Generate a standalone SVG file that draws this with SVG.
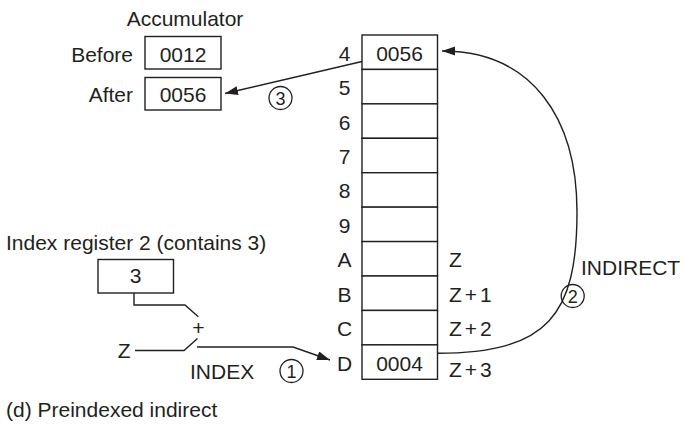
<svg xmlns="http://www.w3.org/2000/svg" width="683" height="427" viewBox="0 0 683 427">
<style>
text{font-family:"Liberation Sans",Arial,sans-serif;font-size:21px;fill:#231f20}
.m{text-anchor:middle}
.e{text-anchor:end}
.box{fill:#fff;stroke:#231f20;stroke-width:1.4}
.ln{fill:none;stroke:#231f20;stroke-width:1.4}
.c{fill:none;stroke:#231f20;stroke-width:1.3}
.cd{font-size:18px;text-anchor:middle}
.zl{letter-spacing:3px}
</style>
<defs>
<marker id="ah" markerUnits="userSpaceOnUse" markerWidth="14" markerHeight="10" refX="13" refY="4.5" orient="auto">
<path d="M0,0 L13,4.5 L0,9 z" fill="#231f20"/>
</marker>
</defs>
<rect width="683" height="427" fill="#fff"/>

<g id="accumulator">
<text class="m" x="185" y="26">Accumulator</text>
<text class="e" x="133" y="61.5">Before</text>
<rect class="box" x="145" y="36.5" width="76" height="32.5"/>
<text class="m" x="183" y="61.5">0012</text>
<text class="e" x="133" y="102">After</text>
<rect class="box" x="145" y="77.5" width="76" height="32.5"/>
<text class="m" x="183" y="102">0056</text>
</g>

<g id="memory">
<g id="m4"><rect class="box" x="362" y="35" width="75.5" height="34.43"/><text class="m" x="344.5" y="60.7">4</text><text class="m" x="399.5" y="60.7">0056</text></g>
<g id="m5"><rect class="box" x="362" y="69.43" width="75.5" height="34.43"/><text class="m" x="344.5" y="95.1">5</text></g>
<g id="m6"><rect class="box" x="362" y="103.86" width="75.5" height="34.43"/><text class="m" x="344.5" y="129.5">6</text></g>
<g id="m7"><rect class="box" x="362" y="138.29" width="75.5" height="34.43"/><text class="m" x="344.5" y="164">7</text></g>
<g id="m8"><rect class="box" x="362" y="172.72" width="75.5" height="34.43"/><text class="m" x="344.5" y="198.4">8</text></g>
<g id="m9"><rect class="box" x="362" y="207.15" width="75.5" height="34.43"/><text class="m" x="344.5" y="232.9">9</text></g>
<g id="mA"><rect class="box" x="362" y="241.58" width="75.5" height="34.43"/><text class="m" x="344.5" y="267.3">A</text><text x="449" y="267.3">Z</text></g>
<g id="mB"><rect class="box" x="362" y="276.01" width="75.5" height="34.43"/><text class="m" x="344.5" y="301.7">B</text><text class="zl" x="449" y="301.7">Z+1</text></g>
<g id="mC"><rect class="box" x="362" y="310.44" width="75.5" height="34.43"/><text class="m" x="344.5" y="336.2">C</text><text class="zl" x="449" y="336.2">Z+2</text></g>
<g id="mD"><rect class="box" x="362" y="344.87" width="75.5" height="34.43"/><text class="m" x="344.5" y="370.6">D</text><text class="m" x="399.5" y="370.6">0004</text><text class="zl" x="449" y="376.5">Z+3</text></g>
</g>

<g id="index-register">
<text x="6" y="249.5">Index register 2 (contains 3)</text>
<rect class="box" x="98" y="259.5" width="75.5" height="33.5"/>
<text class="m" x="135.5" y="283.3">3</text>
</g>

<g id="adder">
<text class="m" x="198.3" y="335.3">+</text>
<text class="e" x="130.5" y="358.3">Z</text>
</g>

<g id="connectors">
<path class="ln" d="M134,293 V305 H185 L198.3,316.7"/>
<path class="ln" d="M135,350.5 H184 L197.5,338.5"/>
<path class="ln" d="M197,347 H293 L330,360" marker-end="url(#ah)"/>
<path class="ln" d="M437.5,353.3 C548,353 577,315 577,212 C577,118 532,51 442,51" marker-end="url(#ah)"/>
<path class="ln" d="M362,61.5 L225,93.5" marker-end="url(#ah)"/>
</g>

<g id="labels">
<text x="190" y="379.3">INDEX</text>
<circle class="c" cx="291.5" cy="371" r="11.5"/>
<text class="cd" x="291.5" y="377.5">1</text>
<text x="581" y="275">INDIRECT</text>
<circle class="c" cx="572.7" cy="296" r="11.5"/>
<text class="cd" x="572.7" y="302.5">2</text>
<circle class="c" cx="280.5" cy="98" r="11.5"/>
<text class="cd" x="280.5" y="104.5">3</text>
<text x="6" y="417">(d) Preindexed indirect</text>
</g>
</svg>
